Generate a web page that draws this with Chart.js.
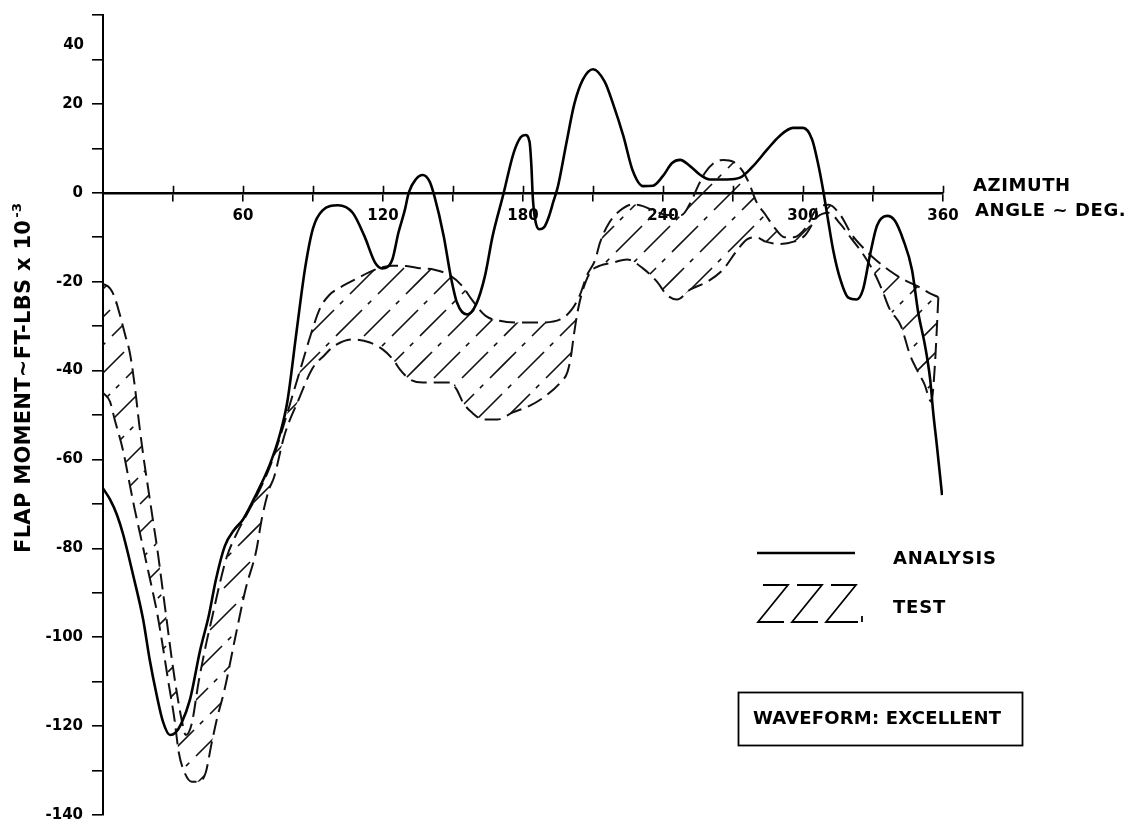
<!DOCTYPE html>
<html>
<head>
<meta charset="utf-8">
<script src="https://cdn.jsdelivr.net/npm/chart.js@4.4.1/dist/chart.umd.min.js"></script>
<style>
  html, body { margin: 0; padding: 0; background: #fff; }
  #wrap { width: 1143px; height: 823px; }
</style>
</head>
<body>
<div id="wrap"><canvas id="flap" width="1143" height="823"></canvas></div>
<script>
// Blade flap bending moment vs. azimuth angle (thousands of ft-lbs)

// Analysis curve
const analysisAngle = [0, 3, 6, 8.7, 12.9, 17.2, 20, 23, 25.7, 28.7, 31, 33.5, 37.3, 41.6, 45.4, 48.4, 52.2, 56, 60, 66,
  71.6, 76, 79, 83, 86.6, 90, 94, 100.7, 107, 112, 116.6, 119.6, 124, 126.6, 129.4, 131, 134, 137, 140, 142,
  146, 149, 151.7, 156, 160, 163.7, 167, 171.4, 176, 179, 181, 182.8, 183.6, 184.2, 185.2, 187, 189, 191, 193, 195,
  198.6, 202, 205.7, 210, 215, 218.6, 223, 227, 231.4, 235.7, 240, 243.9, 247.3, 251.6, 256, 260, 267.5, 273, 278.6, 284.6,
  290, 295.7, 300, 303.9, 306.4, 308.6, 310.7, 312.9, 316, 319.4, 323, 325.7, 328.7, 331.7, 336, 339.4, 342.9, 346.7, 349.4, 352.3,
  354.5, 355.8, 357.4, 359.6];
const analysisMoment = [-66.5, -69, -72.5, -77, -86, -96, -105, -113, -119, -122, -121.5, -119.5, -114, -103, -95, -87, -79.5, -76, -73.5, -67.5,
  -61, -54, -47, -31, -17, -8, -4, -2.8, -4.5, -9.7, -15.7, -17, -15, -9, -3.8, 0, 3, 4, 2.5, -0.7,
  -9.7, -18.7, -24.7, -27.4, -25, -18.7, -9.7, -0.7, 9, 12.5, 13, 11.5, 6, -1, -6, -8.2, -7.8, -5.5, -2, 1.5,
  11.2, 20, 25.5, 27.8, 25, 20, 12.8, 5, 1.5, 1.6, 3.8, 6.7, 7.4, 6, 4, 3, 3, 3.4, 6, 9.7,
  12.8, 14.6, 14.6, 12, 6.7, 0.7, -6, -12.8, -19.5, -23.6, -24, -21.8, -14, -7.4, -5.2, -6.3, -10.5, -17.3, -27, -34.4,
  -42, -49.4, -57, -68];

// Test scatter band: upper edge
const testUpperAngle = [0, 3, 5, 7, 9.5, 11.5, 13.5, 15.5, 17.5, 19.5, 21.5, 23.5, 25.5, 27.5, 29.5, 31.5, 33.5, 35.5, 38, 41,
  44, 47, 50, 53, 57, 62, 67, 72, 77, 81, 85, 89, 93, 97, 101, 108, 118, 124, 130, 136,
  142, 149, 154, 158, 164, 170, 179, 187, 196, 201, 204.4, 207.3, 211, 213, 217, 221.6, 227, 231.4, 236, 242,
  248, 252, 255, 258, 262, 266, 270, 274, 277, 280, 284, 288, 292, 296, 301, 306, 311, 316, 321, 326,
  331, 337, 343, 349, 354, 358];
const testUpperMoment = [-20.5, -21.5, -23.5, -27, -32, -36, -43, -52, -60, -67, -74, -81, -89, -97, -105, -112, -118, -122, -119.5, -110,
  -102, -95, -88, -82, -77, -72, -67, -61, -53, -46, -39, -32, -26, -23, -21.5, -19.5, -17, -16.4, -16.5, -17,
  -17.3, -18.7, -21, -24, -27.7, -28.8, -29.2, -29.2, -28.5, -26.2, -23, -18.7, -15, -11.2, -6.7, -4, -2.6, -3, -4, -5,
  -5, -2, 1.5, 4.5, 6.8, 7.4, 7, 5, 2, -2, -5, -8, -10, -10, -8, -3.5, -2.7, -5, -9.5, -12.5,
  -15, -17.5, -19.5, -21, -22.5, -23.5];

// Test scatter band: lower edge
const testLowerAngle = [0, 3, 5, 8.6, 11.6, 13.5, 16, 18.5, 21, 23, 25, 28, 30.5, 32.5, 35, 38, 41, 44, 46.5, 49,
  52, 56.7, 61.2, 65.7, 68, 71, 73.3, 77.8, 83.8, 89.8, 95, 99, 107, 114.4, 120, 124.3, 127.3, 131.6, 137, 148.7,
  151.6, 154.3, 158, 163, 169, 175.7, 183, 190, 196, 199, 200.5, 201.8, 203.6, 205.7, 208.7, 213, 218.6, 224.6, 231.4, 237.4,
  241.7, 246, 251.6, 259, 265.7, 271.7, 276, 280, 284, 290, 296, 301, 306, 311, 316, 321, 326, 331, 334, 337,
  342, 346, 349, 352, 355, 356.5, 357.5, 358];
const testLowerMoment = [-45, -47, -51, -58, -66, -71, -77, -83, -89, -94, -100, -110, -118, -126, -130.5, -132.5, -132.5, -130.5, -124, -118,
  -112, -100, -89, -80.5, -73.5, -67, -64, -54.5, -46.6, -39.5, -36.5, -34.5, -33, -33.7, -35.3, -37.5, -39.8, -42, -42.7, -42.7,
  -44.3, -47.2, -49.4, -51, -51, -49.4, -47.9, -45.6, -42.7, -40.4, -37, -32, -26.2, -21.8, -18, -16.4, -15.7, -15, -17, -20,
  -23, -24, -21.8, -20, -17.3, -13, -10.5, -10, -11, -11.5, -11, -9.5, -5.5, -4.5, -7, -10.5, -14, -18.5, -22, -26,
  -30, -36.7, -40, -43, -47, -39, -29, -23.5];

// Axis ranges and labelled ticks
const xRange = [0, 360];
const xTickStep = 30;
const xLabelled = [60, 120, 180, 240, 300, 360];
const yRange = [-140, 40];
const yTickStep = 10;
const yLabelled = [20, 0, -20, -40, -60, -80, -100, -120, -140];
const yTopLabel = '40';

// Texts
const yTitle = 'FLAP MOMENT~FT-LBS x 10';
const yTitleExp = '-3';
const xTitle = ['AZIMUTH', 'ANGLE ~ DEG.'];
const legendLabels = ['ANALYSIS', 'TEST'];
const noteText = 'WAVEFORM: EXCELLENT';

const FONT = '"DejaVu Sans", "Liberation Sans", Arial, sans-serif';

function toPoints(xs, ys) {
  return xs.map((x, i) => ({ x: x, y: ys[i] }));
}

// Diagonal dashed hatching used to fill the test band
function makeHatch() {
  const S = 84, step = 28;
  const P = S * Math.SQRT2 / 2;
  const tile = document.createElement('canvas');
  tile.width = S; tile.height = S;
  const g = tile.getContext('2d');
  g.strokeStyle = '#111';
  g.lineWidth = 1.6;
  g.setLineDash([0.62 * P, 0.14 * P, 0.08 * P, 0.16 * P]);
  for (let c = -S; c <= 3 * S; c += step) {
    const k = (((c / step) % 3) + 3) % 3;
    const x0 = c - S - 10;
    let off = x0 * Math.SQRT2 + k * P / 3;
    off = ((off % P) + P) % P;
    g.lineDashOffset = off;
    g.beginPath();
    g.moveTo(x0, c - x0);
    g.lineTo(c + 10, -10);
    g.stroke();
  }
  return g.createPattern(tile, 'repeat');
}

// Extra drawing: crossing x ticks, axis titles, legend, note box
const decorations = {
  id: 'decorations',
  afterDraw(chart) {
    const ctx = chart.ctx;
    const xs = chart.scales.x, ys = chart.scales.y;
    const y0 = ys.getPixelForValue(0);
    ctx.save();
    ctx.strokeStyle = '#000';
    ctx.fillStyle = '#000';

    // upper half of the x-axis tick marks
    ctx.lineWidth = 1.6;
    for (let v = xRange[0] + xTickStep; v <= xRange[1]; v += xTickStep) {
      const px = Math.round(xs.getPixelForValue(v)) + 0.5;
      ctx.beginPath();
      ctx.moveTo(px, y0 - 7);
      ctx.lineTo(px, y0);
      ctx.stroke();
    }

    // top y label
    ctx.font = 'bold 15px ' + FONT;
    ctx.textAlign = 'right';
    ctx.textBaseline = 'middle';
    ctx.fillText(yTopLabel, 84, 45);

    // x axis title
    ctx.font = 'bold 18px ' + FONT;
    ctx.letterSpacing = '0.6px';
    ctx.textAlign = 'left';
    ctx.fillText(xTitle[0], 973, 186);
    ctx.fillText(xTitle[1], 975, 211);

    // y axis title, rotated
    ctx.save();
    ctx.translate(30, 553);
    ctx.rotate(-Math.PI / 2);
    ctx.letterSpacing = '0.3px';
    ctx.font = 'bold 21px ' + FONT;
    ctx.textAlign = 'left';
    ctx.textBaseline = 'alphabetic';
    ctx.fillText(yTitle, 0, 0);
    const w = ctx.measureText(yTitle).width;
    ctx.font = 'bold 13px ' + FONT;
    ctx.fillText(yTitleExp, w + 2, -9);
    ctx.restore();

    // legend: analysis
    ctx.lineWidth = 2.6;
    ctx.setLineDash([]);
    ctx.beginPath();
    ctx.moveTo(757, 553);
    ctx.lineTo(855, 553);
    ctx.stroke();
    ctx.font = 'bold 18px ' + FONT;
    ctx.letterSpacing = '0.8px';
    ctx.textAlign = 'left';
    ctx.textBaseline = 'middle';
    ctx.fillText(legendLabels[0], 893, 559);

    // legend: test hatch symbol
    ctx.lineWidth = 1.8;
    const top = 585, bot = 622;
    for (let i = 0; i < 3; i++) {
      const x = 757 + i * 34;
      ctx.beginPath();
      ctx.moveTo(x + 6, top);
      ctx.lineTo(x + 31, top);
      ctx.lineTo(x + 1, bot);
      ctx.lineTo(x + 27 + (i === 2 ? 6 : 0), bot);
      ctx.stroke();
    }
    ctx.beginPath();
    ctx.moveTo(862, bot - 6);
    ctx.lineTo(862, bot);
    ctx.stroke();
    ctx.fillText(legendLabels[1], 893, 608);

    // note box
    ctx.lineWidth = 1.8;
    ctx.strokeRect(738.5, 692.5, 284, 53);
    ctx.letterSpacing = '0.2px';
    ctx.textAlign = 'left';
    ctx.fillText(noteText, 753, 719);

    ctx.restore();
  }
};

const hatch = makeHatch();
const tickFont = { family: FONT, size: 15, weight: 'bold' };

new Chart(document.getElementById('flap').getContext('2d'), {
  type: 'line',
  data: {
    datasets: [
      {
        label: legendLabels[0],
        data: toPoints(analysisAngle, analysisMoment),
        borderColor: '#000',
        borderWidth: 2.6,
        pointRadius: 0,
        fill: false,
        cubicInterpolationMode: 'monotone'
      },
      {
        label: legendLabels[1] + ' upper',
        data: toPoints(testUpperAngle, testUpperMoment),
        borderColor: '#111',
        borderWidth: 2,
        borderDash: [16, 7],
        pointRadius: 0,
        fill: false,
        cubicInterpolationMode: 'monotone'
      },
      {
        label: legendLabels[1] + ' lower',
        data: toPoints(testLowerAngle, testLowerMoment),
        borderColor: '#111',
        borderWidth: 2,
        borderDash: [16, 7],
        pointRadius: 0,
        fill: '-1',
        backgroundColor: hatch,
        cubicInterpolationMode: 'monotone'
      }
    ]
  },
  options: {
    responsive: false,
    animation: false,
    devicePixelRatio: 1,
    layout: { padding: { left: 45, right: 200, top: 15, bottom: 8 } },
    plugins: { legend: { display: false }, tooltip: { enabled: false } },
    scales: {
      x: {
        type: 'linear',
        min: xRange[0],
        max: xRange[1],
        position: { y: 0 },
        ticks: {
          stepSize: xTickStep,
          autoSkip: false,
          maxRotation: 0,
          padding: 7,
          color: '#000',
          font: tickFont,
          callback: v => (xLabelled.includes(v) ? String(v) : '')
        },
        grid: { display: true, drawOnChartArea: false, drawTicks: true, tickLength: 7, color: '#000', lineWidth: 1.6 },
        border: { display: true, color: '#000', width: 2.4 }
      },
      y: {
        type: 'linear',
        min: yRange[0],
        max: yRange[1],
        afterFit: scale => {
          scale.width = 58;
          scale.paddingTop = 0;
          scale.paddingBottom = 0;
        },
        ticks: {
          stepSize: yTickStep,
          autoSkip: false,
          padding: 9,
          color: '#000',
          font: tickFont,
          callback: v => (yLabelled.includes(v) ? String(v) : '')
        },
        grid: { display: true, drawOnChartArea: false, drawTicks: true, tickLength: 11, color: '#000', lineWidth: 1.6 },
        border: { display: true, color: '#000', width: 2 }
      }
    }
  },
  plugins: [decorations]
});
</script>
</body>
</html>
